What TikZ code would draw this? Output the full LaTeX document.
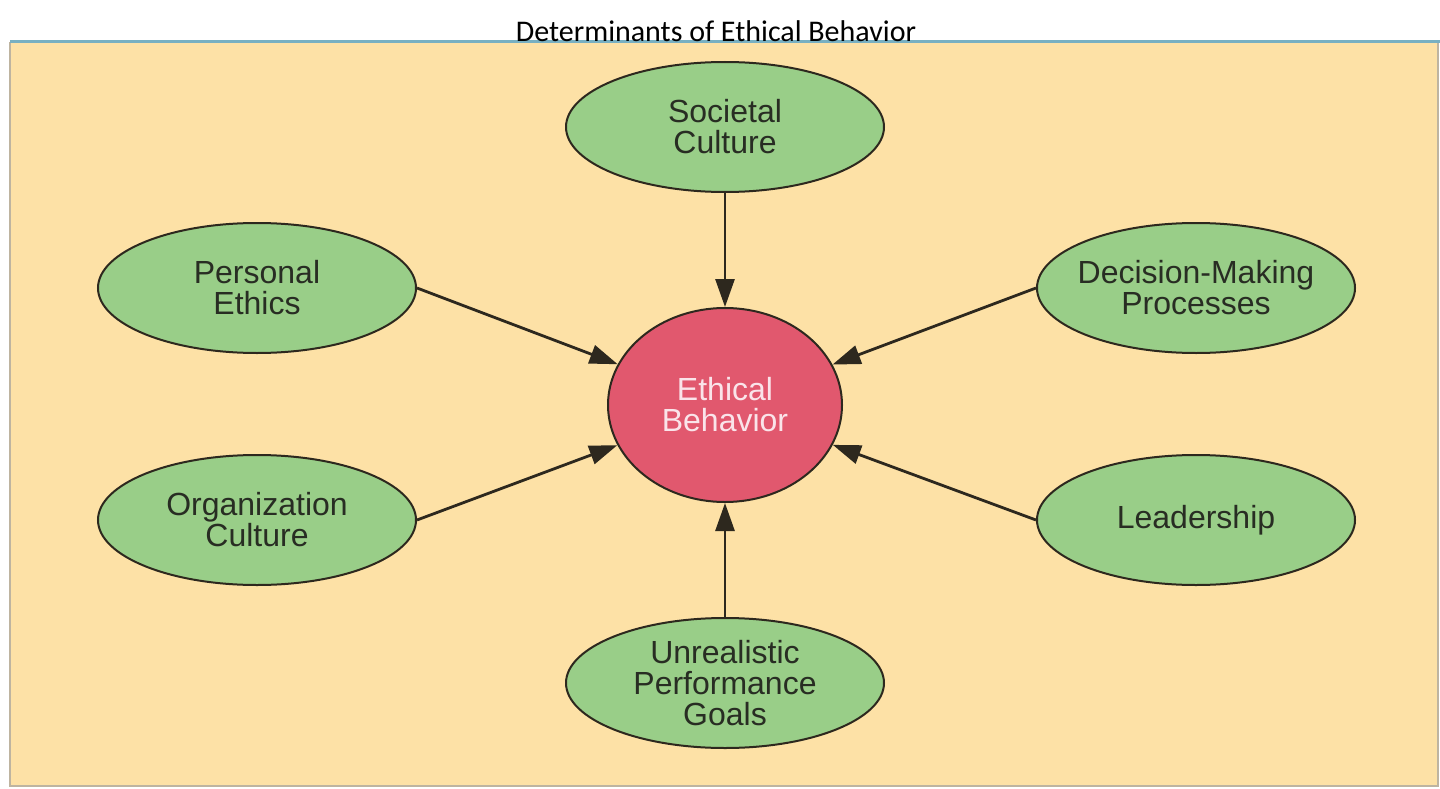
\documentclass[tikz,border=0pt]{standalone}
\usepackage{fontspec}
\setmainfont{Liberation Sans}
\newfontfamily\titlefont{Carlito}
\usepackage{tikz}
\usetikzlibrary{positioning,arrows.meta,shapes.geometric}
\definecolor{panelbg}{RGB}{253,225,166}
\definecolor{paneltop}{RGB}{120,176,194}
\definecolor{panelside}{RGB}{190,180,160}
\definecolor{factorfill}{RGB}{153,206,136}
\definecolor{factortext}{RGB}{40,45,35}
\definecolor{corefill}{RGB}{225,88,110}
\definecolor{coretext}{RGB}{250,228,234}
\definecolor{edgeline}{RGB}{45,40,30}
\tikzset{
  >={Triangle[length=28pt,width=19pt]},
  factor/.style={draw=edgeline,ellipse,fill=factorfill,line width=2pt,
    minimum width=318pt,minimum height=130pt,inner xsep=-40pt,inner ysep=0pt,
    align=center,text=factortext,font=\fontsize{32}{31}\selectfont},
  core/.style={draw=edgeline,ellipse,fill=corefill,line width=2pt,
    minimum width=234pt,minimum height=194pt,inner sep=0pt,align=center,
    text=coretext,font=\fontsize{32}{31}\selectfont},
  influence/.style={->,line width=2.8pt,edgeline},
}

\begin{document}
\begin{tikzpicture}[x=1pt,y=-1pt]
  \useasboundingbox (0,0) rectangle (1440,789);
  % panel
  \fill[panelbg] (10,42) rectangle (1438,786);
  \draw[panelside,line width=1.5pt] (10,42) -- (10,786) -- (1438,786) -- (1438,42);
  \draw[paneltop,line width=3pt] (10,42) -- (1440,42);
  \node[font=\titlefont\fontsize{30}{32}\selectfont,anchor=base] (title) at (716,42)
    {Determinants of Ethical Behavior};
  % centre and factors
  \node[core] (ethics) at (725,405) {Ethical\\Behavior};
  \node[factor] (societal) at (725,127) {Societal\\Culture};
  \node[factor] (personal) at (257,288) {Personal\\Ethics};
  \node[factor] (decision) at (1196,288) {Decision-Making\\Processes};
  \node[factor] (orgcult) at (257,520) {Organization\\Culture};
  \node[factor] (leader) at (1196,520) {Leadership};
  \node[factor] (goals) at (725,683) {Unrealistic\\Performance\\Goals};
  % influences
  \draw[influence] (societal) -- (ethics);
  \draw[influence] (goals) -- (ethics);
  \draw[influence] (personal.east) -- (ethics);
  \draw[influence] (orgcult.east) -- (ethics);
  \draw[influence] (decision.west) -- (ethics);
  \draw[influence] (leader.west) -- (ethics);
\end{tikzpicture}
\end{document}
